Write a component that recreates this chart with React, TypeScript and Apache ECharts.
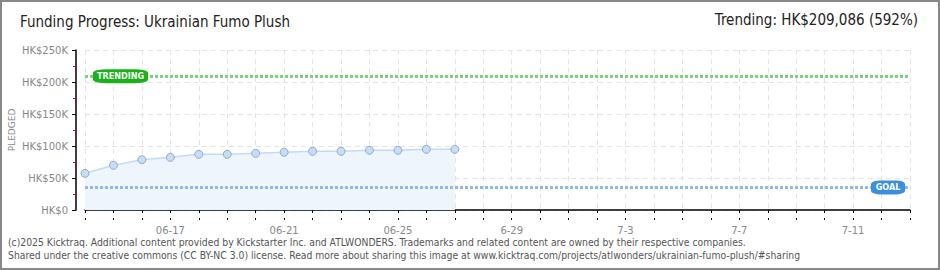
import React, { useEffect, useRef } from "react";
import * as echarts from "echarts";

const days = [
  "06-14", "06-15", "06-16", "06-17", "06-18", "06-19", "06-20", "06-21", "06-22", "06-23",
  "06-24", "06-25", "06-26", "06-27", "06-28", "6-29", "6-30", "7-1", "7-2", "7-3",
  "7-4", "7-5", "7-6", "7-7", "7-8", "7-9", "7-10", "7-11", "7-12", "7-13",
];
const pledged = [57300, 69800, 78600, 82300, 87000, 87000, 88600, 90200, 91700, 91700, 93300, 93300, 94800, 94800];
const trendingValue = 209086;
const goalValue = 35320;
const yTicks = [0, 50000, 100000, 150000, 200000, 250000];

const title = "Funding Progress: Ukrainian Fumo Plush";
const trendText = "Trending: HK$209,086 (592%)";
const yName = "PLEDGED";
const footer1 = "(c)2025 Kicktraq. Additional content provided by Kickstarter Inc. and ATLWONDERS. Trademarks and related content are owned by their respective companies.";
const footer2 = "Shared under the creative commons (CC BY-NC 3.0) license. Read more about sharing this image at www.kicktraq.com/projects/atlwonders/ukrainian-fumo-plush/#sharing";

export default function App() {
  const ref = useRef<HTMLDivElement>(null);
  useEffect(() => {
    document.body.style.margin = "0";
    const chart = echarts.init(ref.current!, null, { renderer: "svg" });
    const gray = "#888";
    const font = "DejaVu Sans Condensed";
    const axisFont = "DejaVu Sans";
    chart.setOption({
      animation: false,
      backgroundColor: "#fff",
      grid: { left: 85, right: 30, top: 50, bottom: 60, outerBoundsMode: "none", containLabel: false },
      xAxis: [
        {
          type: "category",
          data: days,
          boundaryGap: false,
          offset: 10,
          axisLine: { lineStyle: { color: "#000", width: 1.5 } },
          axisTick: { show: true, interval: 0, length: 3, lineStyle: { color: "#000" } },
          axisLabel: {
            interval: (i: number) => i % 4 === 3,
            color: gray,
            fontSize: 10,
            fontFamily: axisFont,
            margin: 5,
          },
          splitLine: { show: true, interval: 0, lineStyle: { color: "#e4e4e4", type: [5, 4] } },
        },
        {
          type: "category",
          data: days,
          boundaryGap: false,
          offset: 10,
          position: "bottom",
          axisLine: { show: false },
          axisTick: { show: true, inside: true, interval: 0, length: 2, lineStyle: { color: "#000" } },
          axisLabel: { show: false },
          splitLine: { show: false },
        },
      ],
      yAxis: {
        type: "value",
        min: 0,
        max: 250000,
        interval: 50000,
        offset: 9,
        axisLine: { show: true, lineStyle: { color: "#000", width: 1.5 } },
        axisTick: { show: true, length: 4, lineStyle: { color: "#000" } },
        minorTick: { show: true, splitNumber: 2, length: 3, lineStyle: { color: "#e00000" } },
        axisLabel: {
          color: gray,
          fontSize: 10,
          fontFamily: axisFont,
          margin: 8,
          formatter: (v: number) => (yTicks.includes(v) ? (v === 0 ? "HK$0" : "HK$" + v / 1000 + "K") : ""),
        },
        splitLine: { show: true, lineStyle: { color: "#e4e4e4", type: [5, 4] } },
      },
      series: [
        {
          type: "line",
          data: pledged,
          symbol: "circle",
          symbolSize: 8,
          lineStyle: { color: "#c4daf3", width: 1.5 },
          itemStyle: { color: "#c6ddf7", borderColor: "#93a9c6", borderWidth: 1 },
          areaStyle: { color: "#eef5fd", opacity: 1 },
          markLine: {
            silent: true,
            symbol: "none",
            label: { show: false },
            data: [
              { yAxis: trendingValue, lineStyle: { color: "#7fd07f", width: 3, type: [3, 2] } },
              { yAxis: goalValue, lineStyle: { color: "#8cbaea", width: 3, type: [3, 2] } },
            ],
          },
          markPoint: {
            silent: true,
            data: [
              {
                coord: [days[0], trendingValue],
                symbol: "roundRect",
                symbolSize: [55, 14],
                symbolOffset: [35.5, 0],
                itemStyle: { color: "#17b317" },
                label: { show: true, formatter: "TRENDING", color: "#fff", fontSize: 9, fontFamily: font, fontWeight: "bold" },
              },
              {
                coord: [days[days.length - 1], goalValue],
                symbol: "roundRect",
                symbolSize: [34, 14],
                symbolOffset: [-22, 0],
                itemStyle: { color: "#3c8fe0" },
                label: { show: true, formatter: "GOAL", color: "#fff", fontSize: 9, fontFamily: font, fontWeight: "bold" },
              },
            ],
          },
        },
      ],
      graphic: [
        {
          type: "rect",
          shape: { x: 1, y: 1, width: 938, height: 268 },
          style: { fill: "none", stroke: "#888", lineWidth: 2 },
          silent: true,
        },
        {
          type: "text",
          x: 12,
          y: 130,
          rotation: Math.PI / 2,
          style: { text: yName, fill: gray, font: `9px "${axisFont}"`, textAlign: "center", textVerticalAlign: "middle" },
        },
        {
          type: "text",
          left: 20,
          top: 14,
          style: { text: title, fill: "#222", font: `15px "${font}"` },
        },
        {
          type: "text",
          right: 22,
          top: 12,
          style: { text: trendText, fill: "#222", font: `15px "${font}"` },
        },
        {
          type: "text",
          left: 8,
          top: 237,
          style: { text: footer1, fill: "#555", font: `10.3px "${font}"` },
        },
        {
          type: "text",
          left: 8,
          top: 250,
          style: { text: footer2, fill: "#555", font: `10.3px "${font}"` },
        },
      ],
    });
    return () => chart.dispose();
  }, []);
  return <div ref={ref} style={{ position: "fixed", left: 0, top: 0, width: 940, height: 270 }} />;
}
